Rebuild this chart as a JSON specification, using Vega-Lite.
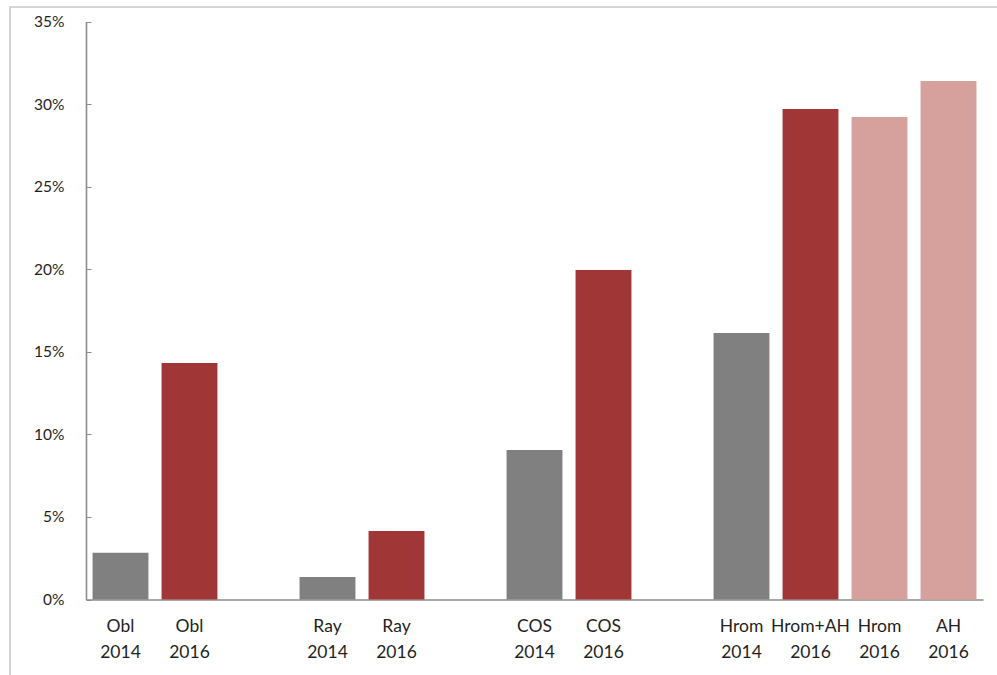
{
  "$schema": "https://vega.github.io/schema/vega-lite/v6.json",
  "usermeta": {"embedOptions": {"actions": false}},
  "autosize": {"type": "none"},
  "padding": {"left": 10, "top": 7, "right": 0, "bottom": 0},
  "width": 1000,
  "height": 690,
  "data": {
    "values": [
      {"label": "Obl 2014", "group": "2014", "share": 0.0283},
      {"label": "Obl 2016", "group": "2016", "share": 0.1432},
      {"label": "Ray 2014", "group": "2014", "share": 0.0136},
      {"label": "Ray 2016", "group": "2016", "share": 0.0415},
      {"label": "COS 2014", "group": "2014", "share": 0.0905},
      {"label": "COS 2016", "group": "2016", "share": 0.1995},
      {"label": "Hrom 2014", "group": "2014", "share": 0.1614},
      {"label": "Hrom+AH 2016", "group": "2016", "share": 0.297},
      {"label": "Hrom 2016", "group": "2016 split", "share": 0.2922},
      {"label": "AH 2016", "group": "2016 split", "share": 0.314}
    ]
  },
  "mark": {"type": "bar"},
  "encoding": {
    "x": {
      "field": "label",
      "type": "nominal",
      "sort": null,
      "scale": {
        "type": "band",
        "domain": ["Obl 2014", "Obl 2016", "gap1", "Ray 2014", "Ray 2016", "gap2", "COS 2014", "COS 2016", "gap3", "Hrom 2014", "Hrom+AH 2016", "Hrom 2016", "AH 2016"],
        "range": [76, 973],
        "paddingInner": 0.19,
        "paddingOuter": 0.095
      },
      "axis": {
        "title": null,
        "orient": "bottom",
        "offset": -97.5,
        "ticks": false,
        "labelAngle": 0,
        "labelPadding": 18,
        "labelFontSize": 17.5,
        "labelLineHeight": 26,
        "labelExpr": "indexof(datum.value, 'gap') == 0 ? '' : split(datum.value, ' ')",
        "domainColor": "#8c8c8c",
        "domainWidth": 1.6
      }
    },
    "y": {
      "field": "share",
      "type": "quantitative",
      "scale": {"domain": [0, 0.35], "range": [592.5, 14.5], "nice": false},
      "axis": {
        "title": null,
        "orient": "left",
        "offset": -76,
        "values": [0, 0.05, 0.1, 0.15, 0.2, 0.25, 0.3, 0.35],
        "format": ".0%",
        "grid": false,
        "tickSize": -5,
        "tickColor": "#8c8c8c",
        "labelPadding": 27,
        "labelFontSize": 15.5,
        "domainColor": "#8c8c8c",
        "domainWidth": 1.6
      }
    },
    "color": {
      "field": "group",
      "type": "nominal",
      "scale": {"domain": ["2014", "2016", "2016 split"], "range": ["#808080", "#A03636", "#D6A09D"]},
      "legend": null
    }
  },
  "config": {
    "background": "#ffffff",
    "view": {"stroke": "#c8c8c8", "strokeWidth": 1.5},
    "font": "Lato",
    "axis": {"labelFont": "Lato", "labelColor": "#1f1f1f"}
  }
}
